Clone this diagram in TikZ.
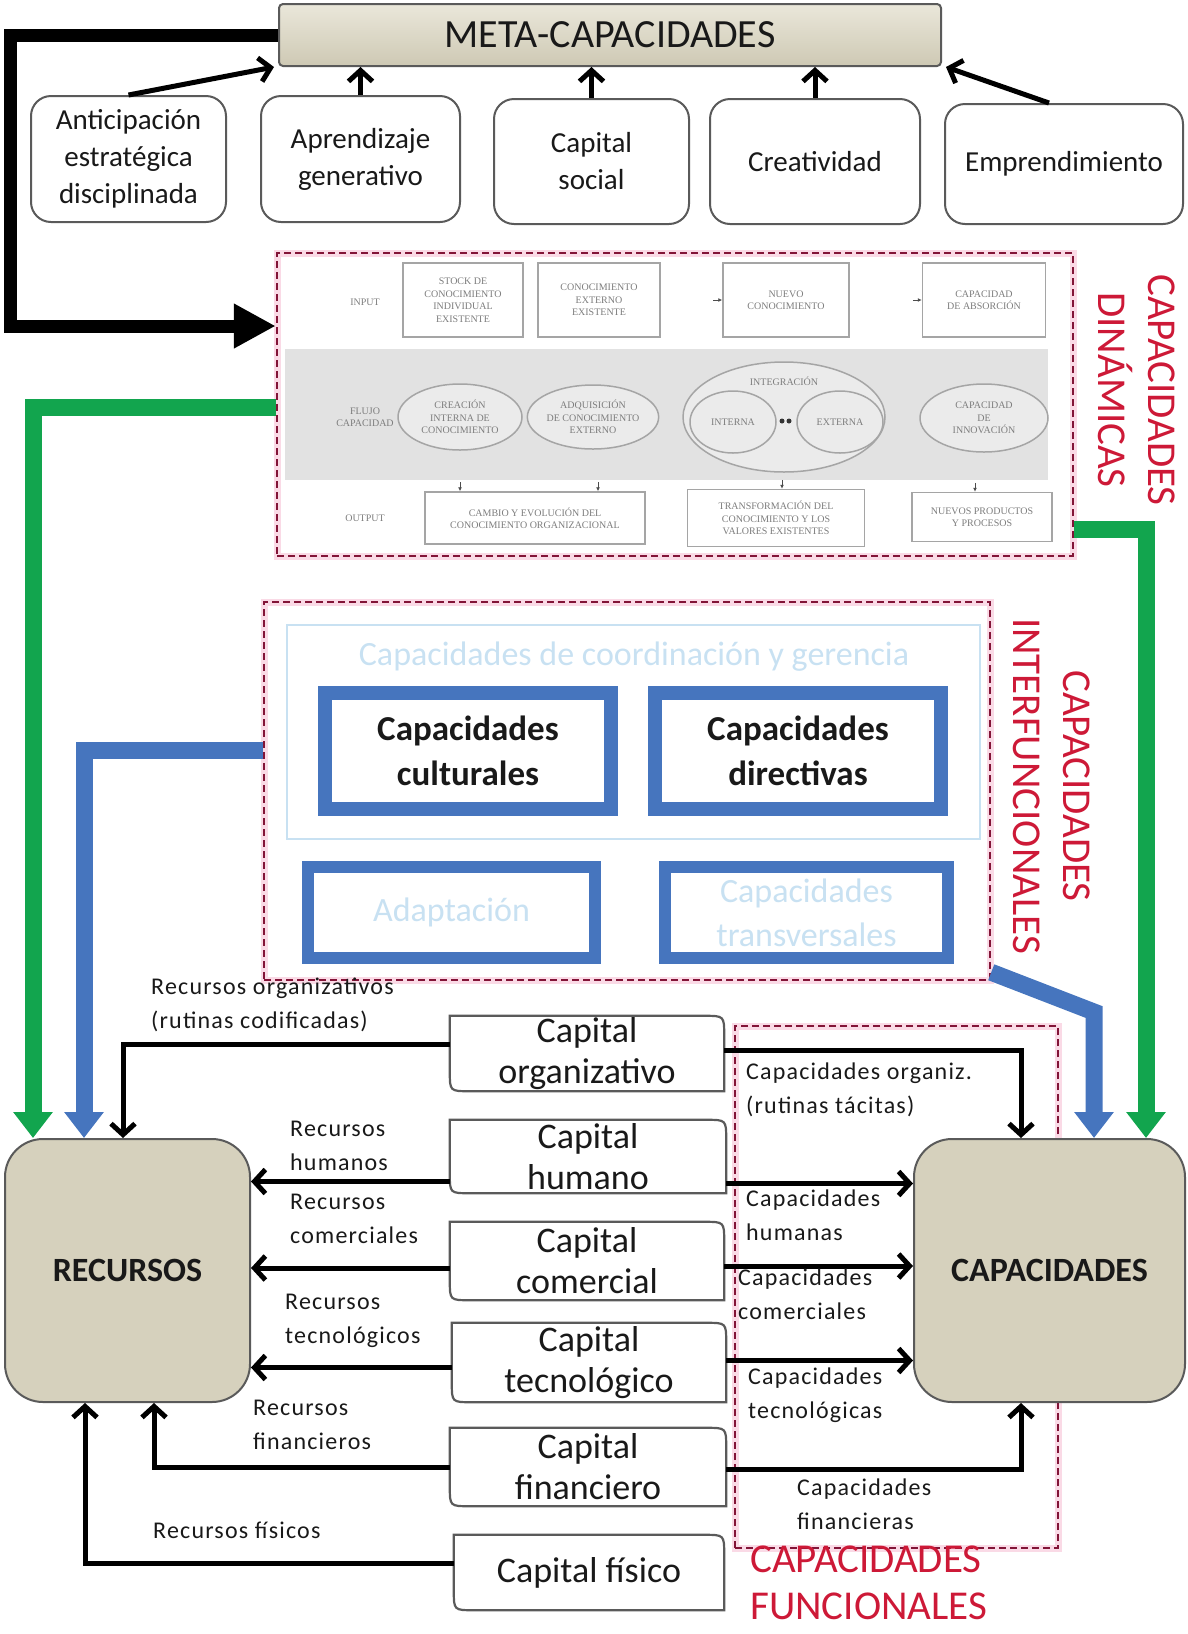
\documentclass[tikz,border=0pt]{standalone}
\usepackage{fontspec}
\setmainfont{Carlito}
\newfontfamily\tinyserif{Liberation Serif}
\usetikzlibrary{arrows.meta,calc,shapes.geometric}

\definecolor{frame}{RGB}{90,90,90}
\definecolor{beige}{RGB}{214,209,189}
\definecolor{beigeT}{RGB}{234,231,218}
\definecolor{beigeB}{RGB}{206,201,180}
\definecolor{dynred}{RGB}{130,20,55}
\definecolor{labred}{RGB}{205,25,55}
\definecolor{glow}{RGB}{250,218,230}
\definecolor{grn}{RGB}{18,165,78}
\definecolor{blu}{RGB}{70,117,190}
\definecolor{paleblue}{RGB}{200,225,242}
\definecolor{inkgray}{RGB}{125,125,125}
\definecolor{boxgray}{RGB}{165,165,165}
\definecolor{bandgray}{RGB}{226,226,226}
\definecolor{ink}{RGB}{25,25,25}

% outline of a "Capital" box: top-right and bottom-left corners rounded
\newcommand{\capshape}[1]{%
  \draw[capline] (#1.north west) -- ([xshift=-20pt]#1.north east)
    .. controls (#1.north east) .. ([yshift=-20pt]#1.north east)
    -- (#1.south east) -- ([xshift=20pt]#1.south west)
    .. controls (#1.south west) .. ([yshift=20pt]#1.south west) -- cycle;}

\begin{document}
\begin{tikzpicture}[x=1pt,y=-1pt,
  frm/.style={draw=frame,line width=2pt},
  topbox/.style={frm,rounded corners=20pt,fill=white,align=center,inner sep=0pt,text=ink,font=\fontsize{29}{37}\selectfont},
  metabox/.style={frm,rounded corners=4pt,top color=beigeT,bottom color=beigeB,inner sep=0pt,text=ink,font=\fontsize{40}{44}\selectfont},
  hub/.style={draw=frame,line width=2pt,rounded corners=38pt,fill=beige,inner sep=0pt,text=ink,font=\bfseries\fontsize{34}{40}\selectfont},
  capnode/.style={inner sep=0pt,align=center,text=ink,font=\fontsize{36}{41}\selectfont},
  capline/.style={draw=frame,line width=2.2pt},
  lbl/.style={anchor=west,align=left,inner sep=0pt,text=ink,font=\fontsize{24}{34}\selectfont\addfontfeature{LetterSpace=5}},
  reddash/.style={draw=dynred,line width=2.5pt,dash pattern=on 7pt off 4pt,
    preaction={draw=glow,line width=7pt,solid}},
  redlbl/.style={text=labred,font=\fontsize{41}{50}\selectfont,align=center,inner sep=0pt},
  blk/.style={draw=black,line width=5pt,-{Straight Barb[length=11pt,width=24pt]}},
  bigblk/.style={draw=black,line width=13pt,line join=miter,-{Triangle[length=42pt,width=42pt]}},
  grnline/.style={draw=grn,line width=17pt,line join=miter,-{Triangle[length=26pt,width=38pt]}},
  bluline/.style={draw=blu,line width=17pt,line join=miter,-{Triangle[length=26pt,width=38pt]}},
  dtxt/.style={inner sep=0pt,align=center,text=inkgray,font=\tinyserif\fontsize{10}{12.5}\selectfont},
  dynbox/.style={dtxt,draw=boxgray,line width=1.5pt,fill=white},
  dynell/.style={dtxt,ellipse,draw=boxgray,line width=1.5pt,fill=white!92!black},
  tinyarr/.style={draw=black!70,line width=1pt,-{Latex[length=4pt,width=4pt]}},
  bluebox/.style={draw=blu,line width=14pt,fill=white,inner sep=0pt,align=center,text=ink,
    font=\bfseries\fontsize{35}{45}\selectfont},
  fadebox/.style={draw=blu,line width=12pt,fill=white,inner sep=0pt,align=center,text=paleblue,
    font=\fontsize{34}{44}\selectfont}
]
\useasboundingbox (0,0) rectangle (1187,1634);

% ---------- meta-capacities ----------
\node[metabox,minimum width=662pt,minimum height=62pt] (meta) at (610,35) {META-CAPACIDADES};
\node[topbox,minimum width=195pt,minimum height=126pt] (ant) at (128.5,159) {Anticipación\\estratégica\\disciplinada};
\node[topbox,minimum width=199pt,minimum height=126pt] (apr) at (360.5,159) {Aprendizaje\\generativo};
\node[topbox,minimum width=195pt,minimum height=125pt] (soc) at (591.5,161.5) {Capital\\social};
\node[topbox,minimum width=210pt,minimum height=125pt] (cre) at (815,161.5) {Creatividad};
\node[topbox,minimum width=238pt,minimum height=120pt] (emp) at (1064,164) {Emprendimiento};

\draw[blk] (ant.north) -- ([xshift=-4pt]meta.south west);
\draw[blk] (apr.north) -- (apr.north |- meta.south);
\draw[blk] (soc.north) -- (soc.north |- meta.south);
\draw[blk] (cre.north) -- (cre.north |- meta.south);
\draw[blk] ([xshift=-15pt]emp.north) -- ([xshift=4pt]meta.south east);

% ---------- dynamic capabilities ----------
\node[reddash,minimum width=796pt,minimum height=303pt] (dyn) at (675,404.5) {};
\node[redlbl,rotate=-90] (dynlbl) at (1137,390) {CAPACIDADES\\DINÁMICAS};

\node[dtxt] (inlbl) at (365,302) {INPUT};
\node[dynbox,minimum width=120pt,minimum height=74pt] (in1) at (463,300) {STOCK DE\\CONOCIMIENTO\\INDIVIDUAL\\EXISTENTE};
\node[dynbox,minimum width=122pt,minimum height=74pt] (in2) at (599,300) {CONOCIMIENTO\\EXTERNO\\EXISTENTE};
\node[dynbox,minimum width=126pt,minimum height=74pt] (in3) at (786,300) {NUEVO\\CONOCIMIENTO};
\node[dynbox,minimum width=123pt,minimum height=74pt] (in4) at (984,300) {CAPACIDAD\\DE ABSORCIÓN};
\draw[tinyarr] ([xshift=-9pt]in3.west) -- (in3.west);
\draw[tinyarr] ([xshift=-9pt]in4.west) -- (in4.west);

\node[fill=bandgray,minimum width=763pt,minimum height=131pt,inner sep=0pt] (band) at (666.5,414.5) {};
\node[dtxt] (flujo) at (365,417) {FLUJO\\CAPACIDAD};
\node[dynell,minimum width=124pt,minimum height=66pt] (e1) at (460,417) {CREACIÓN\\INTERNA DE\\CONOCIMIENTO};
\node[dynell,minimum width=120pt,minimum height=64pt] (e2) at (593,417) {ADQUISICIÓN\\DE CONOCIMIENTO\\EXTERNO};
\node[dynell,minimum width=202pt,minimum height=110pt] (eI) at (784,417) {};
\node[dtxt] (eIlbl) at (784,381) {INTEGRACIÓN};
\node[dynell,minimum width=86pt,minimum height=62pt] (eA) at (733,422) {INTERNA};
\node[dynell,minimum width=86pt,minimum height=62pt] (eB) at (840,422) {EXTERNA};
\fill[black!80] (782,421) circle (2.5pt) (789,421) circle (2.5pt);
\node[dynell,minimum width=128pt,minimum height=68pt] (e4) at (984,418) {CAPACIDAD\\DE\\INNOVACIÓN};

\node[dtxt] (outlbl) at (365,518) {OUTPUT};
\node[dynbox,minimum width=220pt,minimum height=52pt] (out1) at (535,518) {CAMBIO Y EVOLUCIÓN DEL\\CONOCIMIENTO ORGANIZACIONAL};
\node[dynbox,minimum width=177pt,minimum height=57pt] (out2) at (776,518) {TRANSFORMACIÓN DEL\\CONOCIMIENTO Y LOS\\VALORES EXISTENTES};
\node[dynbox,minimum width=140pt,minimum height=49pt] (out3) at (982,517) {NUEVOS PRODUCTOS\\Y PROCESOS};
\draw[tinyarr] ([shift={(-75,-9)}]out1.north) -- ([xshift=-75pt]out1.north);
\draw[tinyarr] ([shift={(63,-9)}]out1.north) -- ([xshift=63pt]out1.north);
\draw[tinyarr] ([shift={(6,-9)}]out2.north) -- ([xshift=6pt]out2.north);
\draw[tinyarr] ([shift={(-7,-9)}]out3.north) -- ([xshift=-7pt]out3.north);

% ---------- interfunctional capabilities ----------
\node[reddash,minimum width=726pt,minimum height=378pt] (inter) at (627,791) {};
\node[redlbl,rotate=-90] (interlbl) at (1052,786) {CAPACIDADES\\INTERFUNCIONALES};
\node[draw=paleblue,line width=2pt,minimum width=693pt,minimum height=214pt,inner sep=0pt] (panel) at (633.5,732) {};
\node[inner sep=0pt,text=paleblue,font=\fontsize{34}{40}\selectfont] (paneltitle) at (634,657) {Capacidades de coordinación y gerencia};
\node[bluebox,minimum width=286pt,minimum height=116pt] (cult) at (468,751) {Capacidades\\culturales};
\node[bluebox,minimum width=286pt,minimum height=116pt] (dir) at (798,751) {Capacidades\\directivas};
\node[fadebox,minimum width=287pt,minimum height=91pt] (adap) at (451.5,912.5) {Adaptación};
\node[fadebox,minimum width=283pt,minimum height=91pt] (trans) at (806.5,912.5) {Capacidades\\transversales};

% ---------- functional capabilities ----------
\node[reddash,minimum width=323pt,minimum height=522pt] (func) at (896.5,1287) {};
\node[redlbl,anchor=north west,align=left,font=\fontsize{41}{47}\selectfont] (funclbl) at (750,1546) {CAPACIDADES\\FUNCIONALES};

% ---------- resources and capabilities ----------
\node[hub,minimum width=245pt,minimum height=263pt] (rec) at (127.5,1270.5) {RECURSOS};
\node[hub,minimum width=271pt,minimum height=263pt] (cap) at (1049.5,1270.5) {CAPACIDADES};

% ---------- capital boxes ----------
\node[capnode,minimum width=274pt,minimum height=75pt] (corg) at (587,1053.5) {Capital\\organizativo};
\node[capnode,minimum width=276pt,minimum height=73pt] (chum) at (588,1156.5) {Capital\\humano};
\node[capnode,minimum width=274pt,minimum height=78pt] (ccom) at (587,1261) {Capital\\comercial};
\node[capnode,minimum width=274pt,minimum height=79pt] (ctec) at (589,1362.5) {Capital\\tecnológico};
\node[capnode,minimum width=276pt,minimum height=78pt] (cfin) at (588,1467) {Capital\\financiero};
\node[capnode,minimum width=270pt,minimum height=75pt] (cfis) at (589,1572.5) {Capital físico};
\capshape{corg}
\capshape{chum}
\capshape{ccom}
\capshape{ctec}
\capshape{cfin}
\capshape{cfis}

% ---------- big feedback links ----------
\draw[bigblk] (meta.west) -| (10,326) -- (dyn.west |- 0,326);
\draw[grnline] (dyn.west |- 0,407) -| ([xshift=-94.5pt]rec.north);
\draw[grnline] (dyn.east |- 0,529) -| ([xshift=96.5pt]cap.north);
\draw[bluline] (inter.west |- 0,750) -| ([xshift=-43.5pt]rec.north);
\draw[bluline] ([yshift=9pt]inter.south east) -- (1094,1012) -- ([xshift=44.5pt]cap.north);

% ---------- resource flows ----------
\coordinate (hL) at ([yshift=-25pt]chum.west);
\coordinate (mL) at ([yshift=-7pt]ccom.west);
\coordinate (tL) at ([yshift=-5pt]ctec.west);
\coordinate (hR) at ([yshift=-27pt]chum.east);
\coordinate (mR) at ([yshift=-5pt]ccom.east);
\coordinate (tR) at ([yshift=2pt]ctec.east);
\coordinate (sL) at ([yshift=9pt]cfis.west);

\draw[blk] ([yshift=9pt]corg.west) -| ([xshift=-4.5pt]rec.north);
\draw[blk] ([yshift=3pt]corg.east) -| ([xshift=-28.5pt]cap.north);
\draw[blk] (hL) -- (hL -| rec.east);
\draw[blk] (mL) -- (mL -| rec.east);
\draw[blk] (tL) -- (tL -| rec.east);
\draw[blk] (cfin.west) -| ([xshift=26.5pt]rec.south);
\draw[blk] (sL) -| ([xshift=-42.5pt]rec.south);
\draw[blk] (hR) -- (hR -| cap.west);
\draw[blk] (mR) -- (mR -| cap.west);
\draw[blk] (tR) -- (tR -| cap.west);
\draw[blk] ([yshift=-2pt]cfin.east) -| ([xshift=-28.5pt]cap.south);

% ---------- flow labels ----------
\node[lbl,anchor=north west] (l1) at (151,978) {Recursos organizativos\\(rutinas codificadas)};
\node[lbl] (l2) at (290,1146) {Recursos\\humanos};
\node[lbl] (l3) at (290,1219) {Recursos\\comerciales};
\node[lbl] (l4) at (285,1321) {Recursos\\tecnológicos};
\node[lbl] (l5) at (253,1425) {Recursos\\financieros};
\node[lbl] (l6) at (153,1530) {Recursos físicos};
\node[lbl] (r1) at (746,1090) {Capacidades organiz.\\(rutinas tácitas)};
\node[lbl] (r2) at (746,1215) {Capacidades\\humanas};
\node[lbl] (r3) at (738,1294) {Capacidades\\comerciales};
\node[lbl] (r4) at (748,1395) {Capacidades\\tecnológicas};
\node[lbl] (r5) at (797,1504) {Capacidades\\financieras};
\end{tikzpicture}
\end{document}
